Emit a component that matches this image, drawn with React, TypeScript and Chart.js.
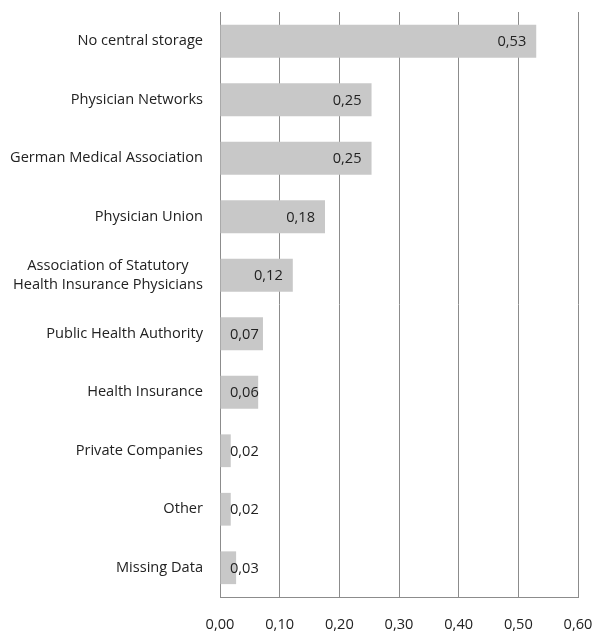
import React, { useEffect, useRef } from "react";
import { Chart, registerables } from "chart.js";

Chart.register(...registerables);

const categories: (string | string[])[] = [
  "No central storage",
  "Physician Networks",
  "German Medical Association",
  "Physician Union",
  ["Association of Statutory", "Health Insurance Physicians"],
  "Public Health Authority",
  "Health Insurance",
  "Private Companies",
  "Other",
  "Missing Data",
];

const shares: number[] = [0.53, 0.254, 0.254, 0.176, 0.122, 0.072, 0.064, 0.018, 0.018, 0.027];

const xTicks: number[] = [0, 0.1, 0.2, 0.3, 0.4, 0.5, 0.6];

const FONT_FAMILY = "'Open Sans', sans-serif";
const FONT_SIZE = 14.6;
const TEXT = "#222222";
const GRID = "#8c8c8c";
const BAR = "#c8c8c8";

const fmt = (v: number) => v.toFixed(2).replace(".", ",");

const labelPlugin = {
  id: "customLabels",
  afterDatasetsDraw(chart: any) {
    const ctx = chart.ctx;
    const yScale = chart.scales.y;
    const area = chart.chartArea;
    ctx.save();
    ctx.font = `${FONT_SIZE}px ${FONT_FAMILY}`;
    ctx.fillStyle = TEXT;
    ctx.textBaseline = "middle";
    const lineH = 19;
    categories.forEach((c, i) => {
      const lines = Array.isArray(c) ? c : [c];
      const y = yScale.getPixelForValue(i);
      const maxW = Math.max(...lines.map((l) => ctx.measureText(l).width));
      const cx = area.left - 17 - maxW / 2;
      ctx.textAlign = "center";
      lines.forEach((l, k) => {
        const ly = y + (k - (lines.length - 1) / 2) * lineH;
        ctx.fillText(l, cx, ly);
      });
    });
    const meta = chart.getDatasetMeta(0);
    ctx.textAlign = "right";
    meta.data.forEach((bar: any, i: number) => {
      const txt = fmt(shares[i]);
      const w = ctx.measureText(txt).width;
      const right = Math.max(bar.x - 10, area.left + 10 + w);
      ctx.fillText(txt, right, bar.y + 1);
    });
    ctx.restore();
  },
};

export default function App() {
  const ref = useRef<HTMLCanvasElement | null>(null);
  useEffect(() => {
    if (!ref.current) return;
    const chart = new Chart(ref.current, {
      type: "bar",
      data: {
        labels: categories.map((c) => (Array.isArray(c) ? c.join(" ") : c)),
        datasets: [
          {
            data: shares,
            backgroundColor: BAR,
            borderWidth: 0,
            categoryPercentage: 1,
            barPercentage: 0.56,
          },
        ],
      },
      options: {
        indexAxis: "y",
        animation: false,
        responsive: true,
        maintainAspectRatio: false,
        layout: { padding: { top: 12, right: 0, left: 0, bottom: 0 } },
        plugins: {
          legend: { display: false },
          tooltip: { enabled: false },
          title: { display: false },
        },
        scales: {
          x: {
            type: "linear",
            position: "bottom",
            min: 0,
            max: 0.6,
            afterBuildTicks: (scale: any) => {
              scale.ticks = xTicks.map((v) => ({ value: v }));
            },
            ticks: {
              callback: (v: any) => fmt(Number(v)),
              font: { family: FONT_FAMILY, size: FONT_SIZE },
              color: TEXT,
              padding: 19,
              maxRotation: 0,
            },
            grid: { color: GRID, drawTicks: false, lineWidth: 1 },
            border: { display: true, color: GRID },
            afterFit: (scale: any) => {
              scale.height = 37;
              scale.paddingRight = 17;
            },
          },
          y: {
            type: "category",
            ticks: { display: false },
            grid: { display: false },
            border: { display: true, color: GRID },
            afterFit: (scale: any) => {
              scale.width = 220;
            },
          },
        },
      },
      plugins: [labelPlugin],
    } as any);
    return () => chart.destroy();
  }, []);
  return (
    <div style={{ position: "fixed", left: 0, top: 0, width: 595, height: 634, background: "#fff" }}>
      <canvas ref={ref} />
    </div>
  );
}
